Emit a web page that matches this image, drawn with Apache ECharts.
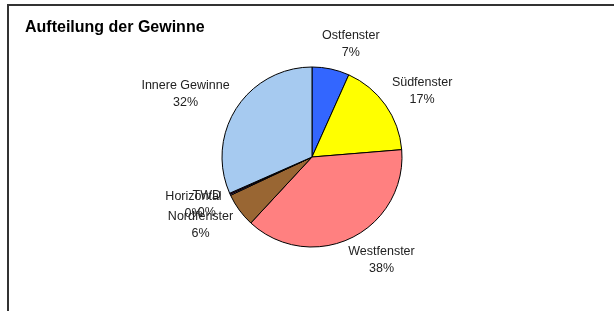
<!DOCTYPE html>
<html>
<head>
<meta charset="utf-8">
<script src="https://cdn.jsdelivr.net/npm/echarts@6/dist/echarts.min.js"></script>
<style>
html,body{margin:0;padding:0;background:#fff;}
#chart{width:614px;height:311px;}
</style>
</head>
<body>
<div id="chart"></div>
<script>
var titleText = 'Aufteilung der Gewinne';
var categories = ['Ostfenster', 'Südfenster', 'Westfenster', 'Nordfenster', 'Horizontal', 'TWD', 'Innere Gewinne'];
var values = [6.7, 17.0, 38.2, 6.1, 0.2, 0.2, 31.6];
var colors = ['#3366FF', '#FFFF00', '#FF8080', '#996633', '#CC99FF', '#800080', '#A6CAF0'];

var chart = echarts.init(document.getElementById('chart'), null, {renderer: 'canvas'});
var data = categories.map(function (c, i) {
  return {name: c, value: values[i], itemStyle: {color: colors[i]}};
});
chart.setOption({
  animation: false,
  backgroundColor: '#fff',
  graphic: [{
    type: 'rect',
    shape: {x: 8, y: 5, width: 700, height: 400},
    style: {fill: 'none', stroke: '#333', lineWidth: 2},
    silent: true
  }],
  title: {
    text: titleText,
    left: 20,
    top: 15,
    textStyle: {fontFamily: 'Liberation Sans, Arial, sans-serif', fontSize: 16, fontWeight: 'bold', color: '#000'}
  },
  series: [{
    type: 'pie',
    center: [312, 157],
    radius: 90,
    startAngle: 90,
    clockwise: true,
    avoidLabelOverlap: false,
    minShowLabelAngle: 0,
    itemStyle: {borderColor: '#000', borderWidth: 1},
    emphasis: {disabled: true},
    label: {
      show: true,
      position: 'outside',
      formatter: '{b}\n{d}%',
      fontFamily: 'Liberation Sans, Arial, sans-serif',
      fontSize: 12.5,
      lineHeight: 17,
      color: '#222',
      distanceToLabelLine: -14
    },
    labelLine: {show: false, length: 25, length2: 0},
    percentPrecision: 0,
    labelLayout: function (p) {
      var r = p.labelRect;
      return {x: r.x + r.width / 2, y: r.y + r.height / 2, align: 'center', verticalAlign: 'middle'};
    },
    data: data
  }]
});
</script>
</body>
</html>
